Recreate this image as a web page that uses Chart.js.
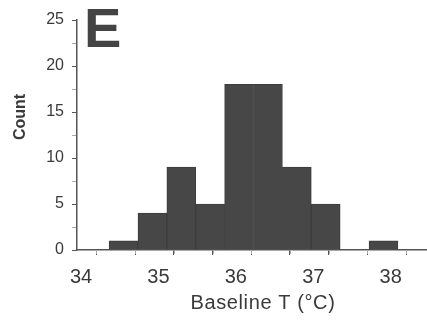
<!DOCTYPE html>
<html>
<head>
<meta charset="utf-8">
<script src="https://cdn.jsdelivr.net/npm/chart.js@4/dist/chart.umd.min.js"></script>
<style>
  html, body { margin: 0; padding: 0; background: #fff; }
  #wrap { width: 427px; height: 321px; }
</style>
</head>
<body>
<div id="wrap"><canvas id="hist-chart" width="427" height="321"></canvas></div>
<script>
// histogram bins (centre of each bin, deg C) and counts
const binCenters = [34.601, 34.974, 35.347, 35.72, 36.093, 36.466, 36.839, 37.212, 37.585, 37.958];
const counts = [1, 4, 9, 5, 18, 18, 9, 5, 0, 1];
const xTickLabels = [34, 35, 36, 37, 38];
const xTicks = [34, 34.5, 35, 35.5, 36, 36.5, 37, 37.5, 38, 38.5];
const xMinorTicks = [34.25, 34.75, 35.25, 35.75, 36.25, 36.75, 37.25, 37.75, 38.25];
const yTickLabels = [0, 5, 10, 15, 20, 25];
const panelLetter = "E";
const xTitle = "Baseline T (°C)";
const yTitle = "Count";

const textColor = "#3a3a3a";
const FONT = "'Liberation Sans', Arial, sans-serif";

function tickVal(c) {
  return c && c.tick ? c.tick.value : NaN;
}

// panel letter, axis titles and the faint quarter-degree ticks
const labelsPlugin = {
  id: "labels",
  afterDraw(chart) {
    const ctx = chart.ctx;
    const area = chart.chartArea;
    const xs = chart.scales.x;
    ctx.save();
    ctx.strokeStyle = "#aaa";
    ctx.lineWidth = 1;
    xMinorTicks.forEach((v) => {
      const px = Math.round(xs.getPixelForValue(v)) + 0.5;
      ctx.beginPath();
      ctx.moveTo(px, area.bottom);
      ctx.lineTo(px, area.bottom + 4);
      ctx.stroke();
    });

    ctx.fillStyle = "#444";
    ctx.font = "bold 56px " + FONT;
    ctx.textAlign = "left";
    ctx.textBaseline = "alphabetic";
    ctx.fillText(panelLetter, area.left + 7, area.top + 27);

    ctx.fillStyle = textColor;
    ctx.font = "20px " + FONT;
    ctx.textAlign = "center";
    ctx.letterSpacing = "0.6px";
    ctx.fillText(xTitle, 263, area.bottom + 59);
    ctx.letterSpacing = "0px";

    ctx.translate(25, area.top + 97);
    ctx.rotate(-Math.PI / 2);
    ctx.font = "bold 16px " + FONT;
    ctx.fillText(yTitle, 0, 0);
    ctx.restore();
  }
};

const ctx = document.getElementById("hist-chart").getContext("2d");
new Chart(ctx, {
  type: "bar",
  data: {
    datasets: [
      {
        label: "Count",
        data: binCenters.map((c, i) => ({ x: c, y: counts[i] })),
        backgroundColor: "#474747",
        borderColor: "#3d3d3d",
        borderWidth: 1,
        barPercentage: 1,
        categoryPercentage: 1,
      },
    ],
  },
  options: {
    responsive: false,
    devicePixelRatio: 1,
    animation: false,
    layout: { padding: { top: 20, right: 0, left: 0, bottom: 0 } },
    plugins: { legend: { display: false }, tooltip: { enabled: false } },
    scales: {
      x: {
        type: "linear",
        min: 34,
        max: 38.52,
        offset: false,
        afterBuildTicks: (s) => { s.ticks = xTicks.map((v) => ({ value: v })); },
        afterFit: (s) => { s.height = 71; s.paddingLeft = 0; s.paddingRight = 0; },
        grid: {
          drawOnChartArea: false,
          drawTicks: true,
          tickLength: 5,
          tickColor: "#555",
        },
        border: { display: true, color: "#555", width: 1.5 },
        ticks: {
          autoSkip: false,
          maxRotation: 0,
          labelOffset: 4,
          padding: 10,
          color: textColor,
          font: { family: FONT, size: 20 },
          callback: (v) => (xTickLabels.includes(v) ? String(v) : ""),
        },
      },
      y: {
        min: 0,
        max: 25,
        afterFit: (s) => { s.width = 77; s.paddingTop = 0; s.paddingBottom = 0; },
        grid: {
          drawOnChartArea: false,
          drawTicks: true,
          tickLength: 5,
          tickColor: (c) => (yTickLabels.includes(tickVal(c)) ? "#555" : "#aaa"),
        },
        border: { display: true, color: "#555", width: 1.5 },
        ticks: {
          stepSize: 2.5,
          autoSkip: false,
          padding: 8,
          color: textColor,
          font: { family: FONT, size: 16 },
          callback: (v) => (yTickLabels.includes(v) ? String(v) : ""),
        },
      },
    },
  },
  plugins: [labelsPlugin],
});
</script>
</body>
</html>
